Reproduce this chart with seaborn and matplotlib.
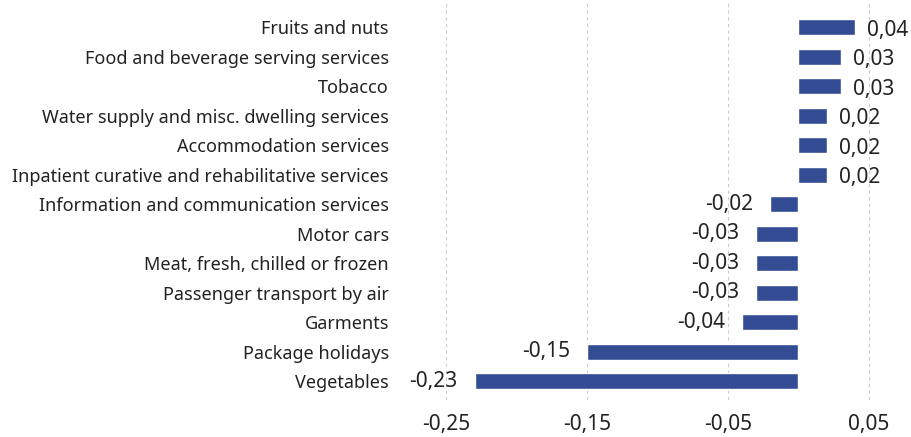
import pandas as pd
import matplotlib
matplotlib.use("Agg")
import matplotlib.pyplot as plt
import seaborn as sns

categorias = ["Fruits and nuts", "Food and beverage serving services", "Tobacco",
              "Water supply and misc. dwelling services", "Accommodation services",
              "Inpatient curative and rehabilitative services",
              "Information and communication services", "Motor cars",
              "Meat, fresh, chilled or frozen", "Passenger transport by air",
              "Garments", "Package holidays", "Vegetables"]
valores = [0.04, 0.03, 0.03, 0.02, 0.02, 0.02, -0.02, -0.03, -0.03, -0.03, -0.04, -0.15, -0.23]
ticks = [-0.25, -0.15, -0.05, 0.05]

df = pd.DataFrame({"cat": categorias, "val": valores})

sns.set_style("white")
plt.rcParams['font.family'] = ['Noto Sans', 'DejaVu Sans']

fig = plt.figure(figsize=(9.11, 4.37), dpi=100)
ax = fig.add_axes([400 / 911, 37 / 437, 511 / 911, 400 / 437])
sns.barplot(data=df, x="val", y="cat", orient="h", color="#344C94",
            width=0.55, saturation=1, ax=ax)

ax.set_xlim(-0.283, 0.08)
ax.set_ylim(12.64, -0.92)
ax.set_xticks(ticks)
ax.set_xticklabels([f"{t:.2f}".replace(".", ",") for t in ticks], fontsize=15, color="#222222")
ax.tick_params(axis="x", length=0, pad=10)
ax.tick_params(axis="y", length=0, pad=8, labelsize=13, labelcolor="#222222")
ax.set_xlabel("")
ax.set_ylabel("")
for s in ax.spines.values():
    s.set_visible(False)
ax.grid(axis="x", linestyle=(0, (3, 3)), color="#cccccc", linewidth=0.8)
ax.set_axisbelow(True)

for i, v in enumerate(valores):
    txt = f"{v:.2f}".replace(".", ",")
    if v >= 0:
        ax.text(v + 0.009, i + 0.1, txt, va="center", ha="left", fontsize=15, color="#222222")
    else:
        ax.text(v - 0.012, i, txt, va="center", ha="right", fontsize=15, color="#222222")

fig.savefig("out.png", dpi=100)
